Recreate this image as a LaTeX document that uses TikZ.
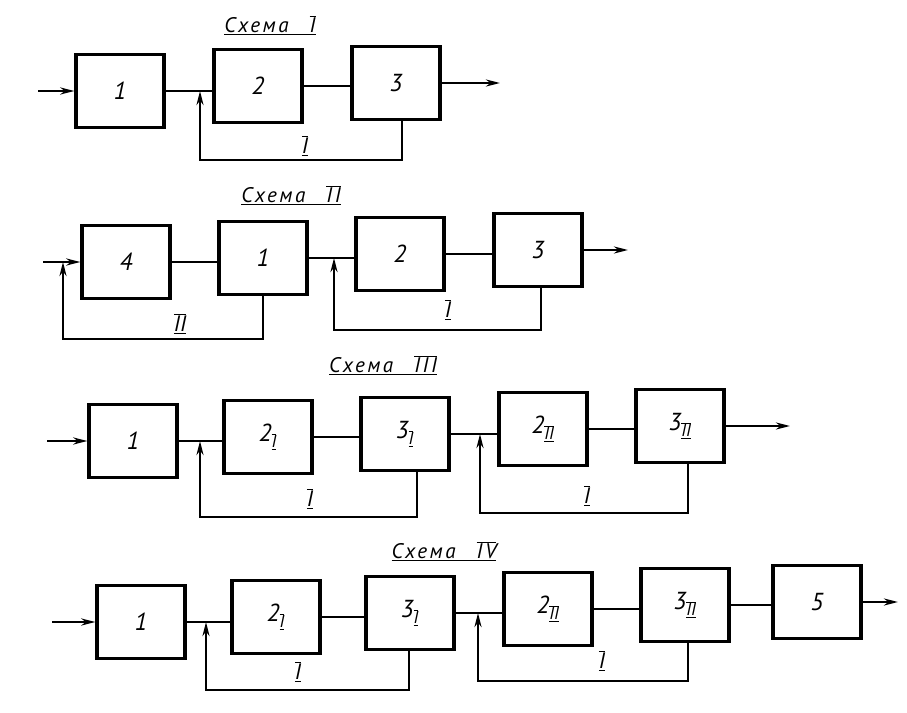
\documentclass[tikz,border=0pt]{standalone}
\usepackage{fontspec}
\setmainfont{PT Sans}
\newfontfamily\titelfont[LetterSpace=12]{PT Sans}
\usetikzlibrary{arrows.meta}

\newcommand\rn[1]{$\overline{\underline{\hbox{#1}}}$}
\newcommand\titel[1]{{\titelfont\itshape\underline{Схема\quad$\overline{\hbox{#1}}$}}}

\begin{document}
\begin{tikzpicture}[x=0.03cm,y=-0.03cm,
  blok/.style={draw,line width=2.8pt,minimum width=2.64cm,minimum height=2.19cm,
    inner sep=0pt,font=\fontsize{21}{24}\selectfont\itshape},
  lijn/.style={line width=2.4pt},
  pijl/.style={line width=2pt,-{Stealth[length=12pt,width=6pt]}},
  terug/.style={line width=2.4pt,-{Stealth[length=12pt,width=6pt]}},
  merk/.style={font=\fontsize{19}{22}\selectfont\itshape},
  kop/.style={font=\fontsize{18}{21}\selectfont}]

\useasboundingbox (0,0) rectangle (907,713);

% Scheme I
\node[kop] (k1) at (270,25) {\titel{I}};
\foreach \n/\x/\y/\t in {1/120/91/1, 2/258/86/2, 3/396/83/3}
  \node[blok] (a\n) at (\x,\y) {\t};
\coordinate (ain) at (38,91);
\coordinate (aout) at (500,83);
\coordinate (aj) at (200,91);
\coordinate (af) at (200,160);
\coordinate (ad) at (402,160);
\draw[pijl] (ain) -- (a1.west);
\foreach \a/\b in {1/2, 2/3}
  \draw[lijn] (a\a.east) -- (a\b.west |- a\a.east);
\draw[pijl] (a3.east) -- (aout);
\draw[terug] (a3.south -| ad) -- (ad) -- (af) -- (aj);
\node[merk] (am) at (305,146) {\rn{I}};

% Scheme II
\node[kop] (k2) at (291,195) {\titel{II}};
\foreach \n/\x/\y/\t in {1/126/262/4, 2/263/258/1, 3/400/254/2, 4/538/250/3}
  \node[blok] (b\n) at (\x,\y) {\t};
\coordinate (bin) at (43,262);
\coordinate (bout) at (628,250);
\coordinate (bj1) at (63,262);
\coordinate (bf1) at (63,339);
\coordinate (bd1) at (263,339);
\coordinate (bj2) at (334,258);
\coordinate (bf2) at (334,330);
\coordinate (bd2) at (541,330);
\draw[pijl] (bin) -- (b1.west);
\foreach \a/\b in {1/2, 2/3, 3/4}
  \draw[lijn] (b\a.east) -- (b\b.west |- b\a.east);
\draw[pijl] (b4.east) -- (bout);
\draw[terug] (b2.south -| bd1) -- (bd1) -- (bf1) -- (bj1);
\draw[terug] (b4.south -| bd2) -- (bd2) -- (bf2) -- (bj2);
\node[merk] (bm1) at (180,324) {\rn{II}};
\node[merk] (bm2) at (448,310) {\rn{I}};

% Scheme III
\node[kop] (k3) at (383,365) {\titel{III}};
\foreach \n/\x/\y/\t in {1/133/441/1, 2/268/437/{2\textsubscript{\rn{I}}},
    3/405/434/{3\textsubscript{\rn{I}}}, 4/543/429/{2\textsubscript{\rn{II}}},
    5/680/426/{3\textsubscript{\rn{II}}}}
  \node[blok] (c\n) at (\x,\y) {\t};
\coordinate (cin) at (47,441);
\coordinate (cout) at (790,426);
\coordinate (cj1) at (200,441);
\coordinate (cf1) at (200,517);
\coordinate (cd1) at (417,517);
\coordinate (cj2) at (480,434);
\coordinate (cf2) at (480,513);
\coordinate (cd2) at (688,513);
\draw[pijl] (cin) -- (c1.west);
\foreach \a/\b in {1/2, 2/3, 3/4, 4/5}
  \draw[lijn] (c\a.east) -- (c\b.west |- c\a.east);
\draw[pijl] (c5.east) -- (cout);
\draw[terug] (c3.south -| cd1) -- (cd1) -- (cf1) -- (cj1);
\draw[terug] (c5.south -| cd2) -- (cd2) -- (cf2) -- (cj2);
\node[merk] (cm1) at (310,499) {\rn{I}};
\node[merk] (cm2) at (587,496) {\rn{I}};

% Scheme IV
\node[kop] (k4) at (444,551) {\titel{IV}};
\foreach \n/\x/\y/\t in {1/141/622/1, 2/276/617/{2\textsubscript{\rn{I}}},
    3/410/613/{3\textsubscript{\rn{I}}}, 4/548/609/{2\textsubscript{\rn{II}}},
    5/685/605/{3\textsubscript{\rn{II}}}, 6/817/602/5}
  \node[blok] (d\n) at (\x,\y) {\t};
\coordinate (din) at (52,622);
\coordinate (dout) at (898,602);
\coordinate (dj1) at (206,622);
\coordinate (df1) at (206,690);
\coordinate (dd1) at (409,690);
\coordinate (dj2) at (478,613);
\coordinate (df2) at (478,681);
\coordinate (dd2) at (688,681);
\draw[pijl] (din) -- (d1.west);
\foreach \a/\b in {1/2, 2/3, 3/4, 4/5, 5/6}
  \draw[lijn] (d\a.east) -- (d\b.west |- d\a.east);
\draw[pijl] (d6.east) -- (dout);
\draw[terug] (d3.south -| dd1) -- (dd1) -- (df1) -- (dj1);
\draw[terug] (d5.south -| dd2) -- (dd2) -- (df2) -- (dj2);
\node[merk] (dm1) at (298,672) {\rn{I}};
\node[merk] (dm2) at (602,661) {\rn{I}};

\end{tikzpicture}
\end{document}
